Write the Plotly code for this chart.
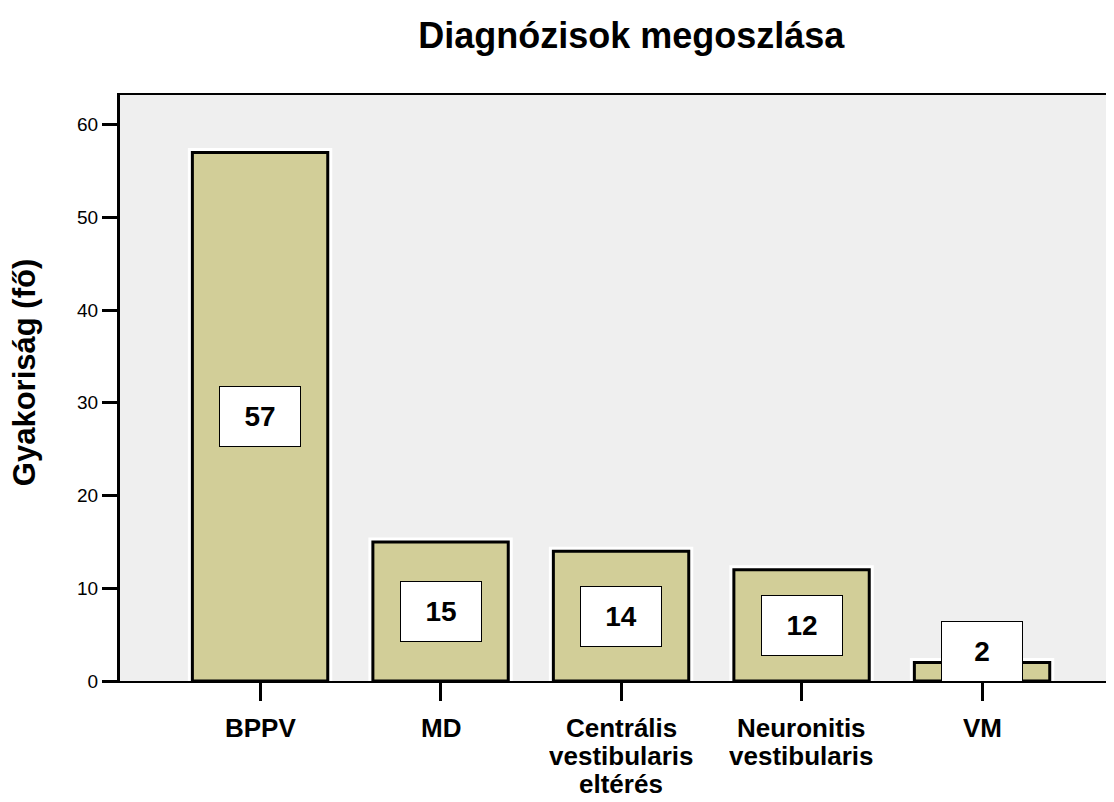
import plotly.graph_objects as go

# Diagnózisok megoszlása
kategoriak = ["BPPV", "MD", "Centrális<br>vestibularis<br>eltérés", "Neuronitis<br>vestibularis", "VM"]
gyakorisag = [57, 15, 14, 12, 2]
y_tickek = [0, 10, 20, 30, 40, 50, 60]

x_pos = list(range(len(kategoriak)))

fig = go.Figure()

# fehér "halo" a sávok körül
fig.add_trace(go.Bar(x=x_pos, y=gyakorisag, width=0.75,
                     marker=dict(color='#D2CE98', line=dict(color='white', width=9)),
                     hoverinfo='skip', showlegend=False))
# a sávok fekete kerettel
fig.add_trace(go.Bar(x=x_pos, y=gyakorisag, width=0.75,
                     marker=dict(color='#D2CE98', line=dict(color='black', width=3)),
                     showlegend=False))

# értékcímkék fehér dobozban
for xi, v in zip(x_pos, gyakorisag):
    fig.add_annotation(x=xi, y=max(v / 2, 3.2), text=f"<b>{v}</b>", showarrow=False,
                       font=dict(family="Arial", size=28, color='black'),
                       bgcolor='white', bordercolor='black', borderwidth=1,
                       width=78, height=57, xanchor='center', yanchor='middle')

# kategória feliratok soronként (szorosabb sorköz, mint a tick feliratoknál)
for xi, k in zip(x_pos, kategoriak):
    for j, sor in enumerate(k.split("<br>")):
        fig.add_annotation(x=xi, y=0, yshift=-47 - 28 * j, text=f"<b>{sor}</b>",
                           showarrow=False, xanchor='center', yanchor='middle', height=28,
                           font=dict(family="Arial", size=26, color='black'))

# y tengely felirata
fig.add_annotation(xref='paper', yref='paper', x=-0.0966, y=0.527, textangle=-90,
                   text="<b>Gyakoriság (fő)</b>", showarrow=False,
                   font=dict(family="Arial", size=31, color='black'),
                   xanchor='center', yanchor='middle')

fig.update_layout(
    width=1106, height=794,
    barmode='overlay',
    paper_bgcolor='white', plot_bgcolor='#EFEFEF',
    margin=dict(l=112, r=0, t=87, b=121),
    font=dict(family="Arial", color='black'),
    title=dict(text="<b>Diagnózisok megoszlása</b>", x=0.5635, xanchor='center',
               y=0.966, yanchor='middle', font=dict(size=36, color='black')),
    xaxis=dict(range=[-0.776, 4.731], tickmode='array', tickvals=x_pos,
               showticklabels=False,
               showline=True, linecolor='black', linewidth=2, mirror=True,
               ticks='outside', ticklen=18, tickwidth=3, tickcolor='black',
               automargin=False,
               showgrid=False, zeroline=False),
    yaxis=dict(range=[0, 63.2], tickvals=y_tickek,
               showline=True, linecolor='black', linewidth=3,
               ticks='outside', ticklen=15, tickwidth=3, tickcolor='black',
               automargin=False,
               showgrid=False, zeroline=False,
               tickfont=dict(size=19, color='black')),
)

fig.write_html("out.html")
